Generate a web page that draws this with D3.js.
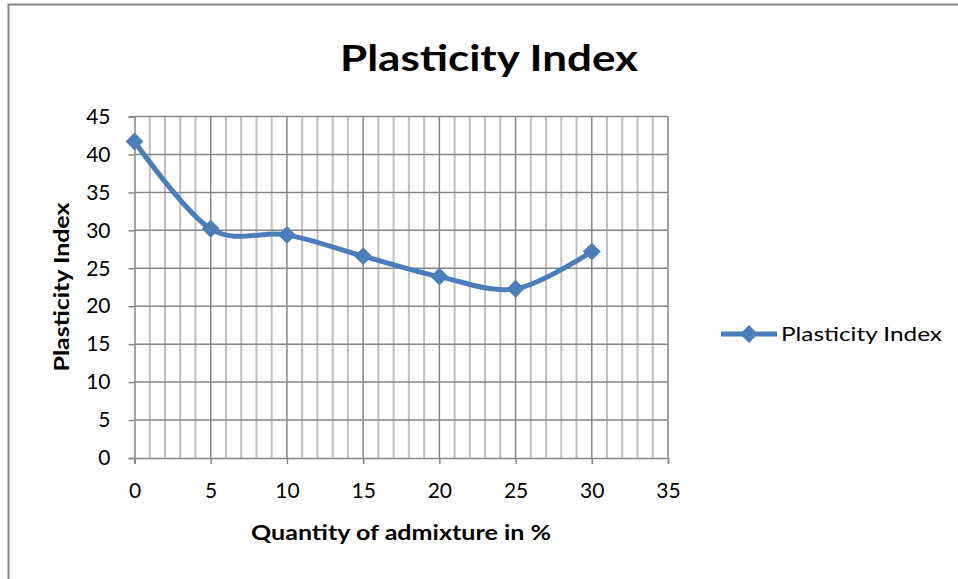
<!DOCTYPE html>
<html><head><meta charset="utf-8">
<script src="https://cdn.jsdelivr.net/npm/d3@7"></script>
<style>body{margin:0;background:#fff}svg{display:block}</style>
</head><body>
<script>
const xValues = [0, 5, 10, 15, 20, 25, 30];
const piValues = [41.7, 30.2, 29.4, 26.6, 23.9, 22.3, 27.2];
const xTicks = [0, 5, 10, 15, 20, 25, 30, 35];
const yTicks = [0, 5, 10, 15, 20, 25, 30, 35, 40, 45];
const seriesName = "Plasticity Index";
const titleText = "Plasticity Index";
const xTitle = "Quantity of admixture in %";
const yTitle = "Plasticity Index";

const W = 958, H = 579;
const svg = d3.select("body").append("svg").attr("width", W).attr("height", H);
const font = "Lato, 'Open Sans', sans-serif";

// chart border
svg.append("rect").attr("x", 8.5).attr("y", 4.5).attr("width", 1000).attr("height", 1000)
  .attr("fill", "none").attr("stroke", "#868686").attr("stroke-width", 2);

const x = d3.scaleLinear().domain([0, 35]).range([134.5, 668]);
const y = d3.scaleLinear().domain([0, 45]).range([458, 116.5]);

// minor vertical gridlines
const minor = d3.range(0, 36, 1).filter(v => v % 5 !== 0);
svg.append("g").selectAll("line").data(minor).join("line")
  .attr("x1", d => x(d)).attr("x2", d => x(d)).attr("y1", y(0)).attr("y2", y(45))
  .attr("stroke", "#c0c0c0").attr("stroke-width", 2);
// major vertical gridlines
svg.append("g").selectAll("line").data(xTicks.filter(v => v > 0)).join("line")
  .attr("x1", d => x(d)).attr("x2", d => x(d)).attr("y1", y(0)).attr("y2", y(45))
  .attr("stroke", "#868686").attr("stroke-width", 1.5);
// horizontal gridlines
svg.append("g").selectAll("line").data(yTicks.filter(v => v > 0)).join("line")
  .attr("x1", x(0)).attr("x2", x(35)).attr("y1", d => y(d)).attr("y2", d => y(d))
  .attr("stroke", "#868686").attr("stroke-width", 1.5);

// axes
const xAxis = svg.append("g").attr("transform", `translate(0,${y(0)})`)
  .call(d3.axisBottom(x).tickValues(xTicks).tickSize(6).tickPadding(19).tickFormat(d3.format("d")));
const yAxis = svg.append("g").attr("transform", `translate(${x(0)},0)`)
  .call(d3.axisLeft(y).tickValues(yTicks).tickSize(6).tickPadding(18).tickFormat(d3.format("d")));
[xAxis, yAxis].forEach(g => {
  g.select(".domain").attr("stroke", "#868686").attr("stroke-width", 1.5);
  g.selectAll(".tick line").attr("stroke", "#868686").attr("stroke-width", 1.5);
  g.selectAll("text").attr("font-family", font).attr("font-size", 21).attr("fill", "#000");
});

// line
const line = d3.line().x((d, i) => x(xValues[i])).y(d => y(d)).curve(d3.curveCatmullRom.alpha(0));
svg.append("path").datum(piValues).attr("d", line)
  .attr("fill", "none").attr("stroke", "#4a7ebb").attr("stroke-width", 5).attr("stroke-linejoin", "round");
svg.append("g").selectAll("path").data(piValues).join("path")
  .attr("d", d3.symbol().type(d3.symbolSquare).size(160)())
  .attr("transform", (d, i) => `translate(${x(xValues[i])},${y(d)}) rotate(45)`)
  .attr("fill", "#4a7ebb");

// title
svg.append("text").attr("x", 489).attr("y", 71).attr("text-anchor", "middle")
  .attr("font-family", font).attr("font-weight", "bold").attr("font-size", 37)
  .attr("textLength", 298).attr("lengthAdjust", "spacingAndGlyphs").text(titleText);
// x title
svg.append("text").attr("x", 401).attr("y", 540).attr("text-anchor", "middle")
  .attr("font-family", font).attr("font-weight", "bold").attr("font-size", 21)
  .attr("textLength", 300).attr("lengthAdjust", "spacingAndGlyphs").text(xTitle);
// y title
svg.append("text").attr("transform", "translate(69,287) rotate(-90)").attr("text-anchor", "middle")
  .attr("font-family", font).attr("font-weight", "bold").attr("font-size", 21)
  .attr("textLength", 169).attr("lengthAdjust", "spacingAndGlyphs").text(yTitle);

// legend
const lg = svg.append("g");
lg.append("line").attr("x1", 721).attr("x2", 777).attr("y1", 334).attr("y2", 334)
  .attr("stroke", "#4a7ebb").attr("stroke-width", 5);
lg.append("path").attr("d", d3.symbol().type(d3.symbolSquare).size(160)())
  .attr("transform", "translate(749,334) rotate(45)").attr("fill", "#4a7ebb");
lg.append("text").attr("x", 781).attr("y", 341).attr("font-family", font).attr("font-size", 20)
  .attr("textLength", 161).attr("lengthAdjust", "spacingAndGlyphs").text(seriesName);
</script>
</body></html>
